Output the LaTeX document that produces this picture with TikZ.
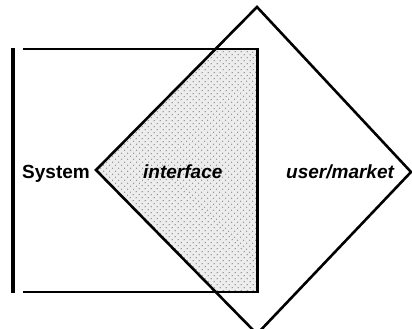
\documentclass[tikz,border=0pt]{standalone}
\usepackage{fontspec}
\setmainfont{Liberation Sans}
\usetikzlibrary{patterns.meta}

\begin{document}
\begin{tikzpicture}[x=1pt, y=-1pt,
  rule/.style={line width=2.6pt},
  bar/.style={line width=3.4pt},
  tag/.style={font=\fontsize{19}{22}\selectfont\bfseries, inner sep=0pt, anchor=base west},
  itag/.style={tag, font=\fontsize{19}{22}\selectfont\bfseries\itshape}]

  \useasboundingbox (0,0) rectangle (412,329);

  % corners of the user/market diamond
  \coordinate (T) at (257,7);
  \coordinate (R) at (411,172);
  \coordinate (B) at (257,334);
  \coordinate (L) at (96,170);

  % system frame corners
  \coordinate (tl) at (23,49);
  \coordinate (tr) at (257.5,49);
  \coordinate (br) at (257.5,292);
  \coordinate (bl) at (23,292);
  \coordinate (bartop) at (13,48);
  \coordinate (barbot) at (13,293);

  % shaded overlap: diamond clipped to the system frame
  \begin{scope}
    \clip (tl) rectangle (br);
    \fill[gray!14] (T) -- (R) -- (B) -- (L) -- cycle;
    \path[pattern={Dots[distance=4pt, angle=45, radius=0.75pt]}, pattern color=gray!85]
      (T) -- (R) -- (B) -- (L) -- cycle;
  \end{scope}

  % system frame
  \draw[rule] (tl) -- (tr) -- (br) -- (bl);
  \draw[bar] (bartop) -- (barbot);

  % user/market diamond
  \draw[rule, line join=miter] (T) -- (R) -- (B) -- (L) -- cycle;

  % labels
  \node[tag]  (sys)  at (22,178)  {System};
  \node[itag] (intf) at (143,178) {interface};
  \node[itag] (user) at (286,178) {user/market};
\end{tikzpicture}
\end{document}
